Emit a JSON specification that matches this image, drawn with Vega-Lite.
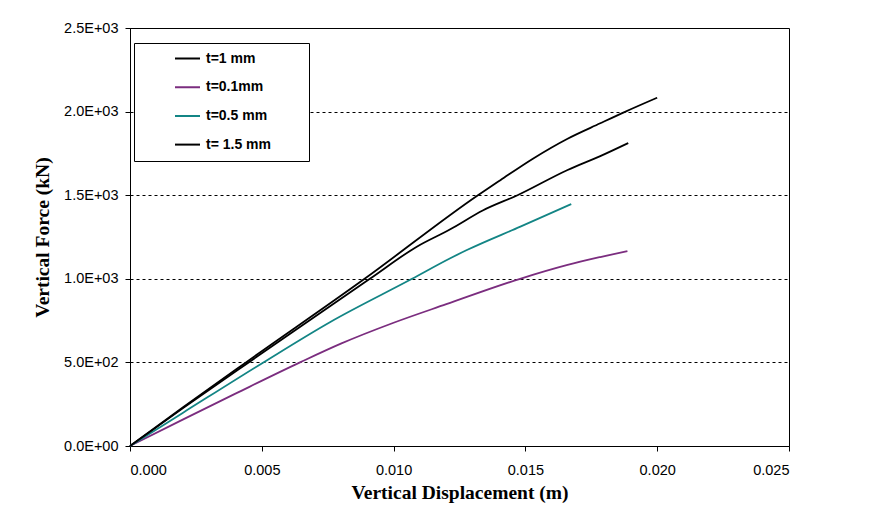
{
  "$schema": "https://vega.github.io/schema/vega-lite/v6.json",
  "width": 659,
  "height": 418,
  "autosize": {"type": "none"},
  "padding": {"left": 130, "top": 28, "right": 84, "bottom": 70},
  "background": "white",
  "config": {"view": {"stroke": "#000", "strokeWidth": 1}, "font": "Liberation Sans"},
  "data": {"values": [
    {"s": "t=1 mm", "d": 0, "f": 0},
    {"s": "t=1 mm", "d": 0.002, "f": 230},
    {"s": "t=1 mm", "d": 0.0044, "f": 500},
    {"s": "t=1 mm", "d": 0.0089, "f": 1000},
    {"s": "t=1 mm", "d": 0.0132, "f": 1500},
    {"s": "t=1 mm", "d": 0.01405, "f": 1590},
    {"s": "t=1 mm", "d": 0.0153, "f": 1720},
    {"s": "t=1 mm", "d": 0.0166, "f": 1838},
    {"s": "t=1 mm", "d": 0.01784, "f": 1930},
    {"s": "t=1 mm", "d": 0.0188, "f": 2000},
    {"s": "t=1 mm", "d": 0.02, "f": 2083},
    {"s": "t=0.1mm", "d": 0, "f": 0},
    {"s": "t=0.1mm", "d": 0.002, "f": 158},
    {"s": "t=0.1mm", "d": 0.004, "f": 313},
    {"s": "t=0.1mm", "d": 0.00645, "f": 500},
    {"s": "t=0.1mm", "d": 0.008, "f": 612},
    {"s": "t=0.1mm", "d": 0.01, "f": 737},
    {"s": "t=0.1mm", "d": 0.012, "f": 848},
    {"s": "t=0.1mm", "d": 0.0148, "f": 1000},
    {"s": "t=0.1mm", "d": 0.0166, "f": 1083},
    {"s": "t=0.1mm", "d": 0.01784, "f": 1130},
    {"s": "t=0.1mm", "d": 0.01887, "f": 1166},
    {"s": "t=0.5 mm", "d": 0, "f": 0},
    {"s": "t=0.5 mm", "d": 0.002, "f": 198},
    {"s": "t=0.5 mm", "d": 0.00506, "f": 500},
    {"s": "t=0.5 mm", "d": 0.0076, "f": 742},
    {"s": "t=0.5 mm", "d": 0.0107, "f": 1000},
    {"s": "t=0.5 mm", "d": 0.01215, "f": 1123},
    {"s": "t=0.5 mm", "d": 0.01278, "f": 1172},
    {"s": "t=0.5 mm", "d": 0.01481, "f": 1312},
    {"s": "t=0.5 mm", "d": 0.01674, "f": 1447},
    {"s": "t= 1.5 mm", "d": 0, "f": 0},
    {"s": "t= 1.5 mm", "d": 0.002, "f": 225},
    {"s": "t= 1.5 mm", "d": 0.0045, "f": 500},
    {"s": "t= 1.5 mm", "d": 0.0091, "f": 1000},
    {"s": "t= 1.5 mm", "d": 0.01088, "f": 1192},
    {"s": "t= 1.5 mm", "d": 0.01215, "f": 1296},
    {"s": "t= 1.5 mm", "d": 0.0134, "f": 1410},
    {"s": "t= 1.5 mm", "d": 0.0147, "f": 1500},
    {"s": "t= 1.5 mm", "d": 0.0166, "f": 1651},
    {"s": "t= 1.5 mm", "d": 0.01784, "f": 1734},
    {"s": "t= 1.5 mm", "d": 0.0189, "f": 1812}
  ]},
  "mark": {"type": "line", "strokeWidth": 1.8, "interpolate": "monotone"},
  "encoding": {
    "x": {
      "field": "d", "type": "quantitative",
      "scale": {"domain": [0, 0.025], "nice": false, "zero": false},
      "axis": {
        "values": [0, 0.005, 0.01, 0.015, 0.02, 0.025],
        "format": ".3f",
        "grid": false,
        "domainColor": "#000", "tickColor": "#000", "tickSize": 5,
        "labelPadding": 12, "labelFont": "Liberation Sans", "labelFontSize": 14.5, "labelColor": "#000",
        "title": "Vertical Displacement (m)",
        "titleFont": "Liberation Serif", "titleFontSize": 19.5, "titleFontWeight": "bold", "titleColor": "#000",
        "titleY": 52, "titleBaseline": "alphabetic"
      }
    },
    "y": {
      "field": "f", "type": "quantitative",
      "scale": {"domain": [0, 2500], "nice": false},
      "axis": {
        "values": [0, 500, 1000, 1500, 2000, 2500],
        "labelExpr": "replace(format(datum.value, '.1e'), 'e+', 'E+0')",
        "grid": true, "gridDash": [3, 3], "gridColor": "#000", "gridWidth": 1, "gridOpacity": 1,
        "domainColor": "#000", "tickColor": "#000", "tickSize": 5,
        "labelPadding": 7, "labelFont": "Liberation Sans", "labelFontSize": 14.5, "labelColor": "#000",
        "title": "Vertical Force (kN)",
        "titleFont": "Liberation Serif", "titleFontSize": 19.5, "titleFontWeight": "bold", "titleColor": "#000",
        "titleX": -82, "titleY": 209, "titleBaseline": "alphabetic", "titleAlign": "center"
      }
    },
    "color": {
      "field": "s", "type": "nominal",
      "scale": {"domain": ["t=1 mm", "t=0.1mm", "t=0.5 mm", "t= 1.5 mm"], "range": ["#000000", "#7B2D7F", "#138585", "#000000"]},
      "legend": {
        "orient": "none", "legendX": 4, "legendY": 15,
        "title": "M", "titleOrient": "left", "titleColor": "#ffffff", "titleFont": "Liberation Sans", "titleFontSize": 14, "titleFontWeight": "bold", "titlePadding": 25,
        "strokeColor": "#000", "fillColor": "#fff", "padding": 3,
        "symbolType": "stroke", "symbolSize": 625, "symbolStrokeWidth": 2,
        "clipHeight": 25,
        "labelFont": "Liberation Sans", "labelFontSize": 14, "labelFontWeight": "bold", "labelColor": "#000",
        "labelOffset": 5, "rowPadding": 3.7,
        "labelExpr": "datum.label + '\u00a0\u00a0\u00a0\u00a0\u00a0\u00a0\u00a0\u00a0\u00a0\u200b'"
      }
    }
  }
}
